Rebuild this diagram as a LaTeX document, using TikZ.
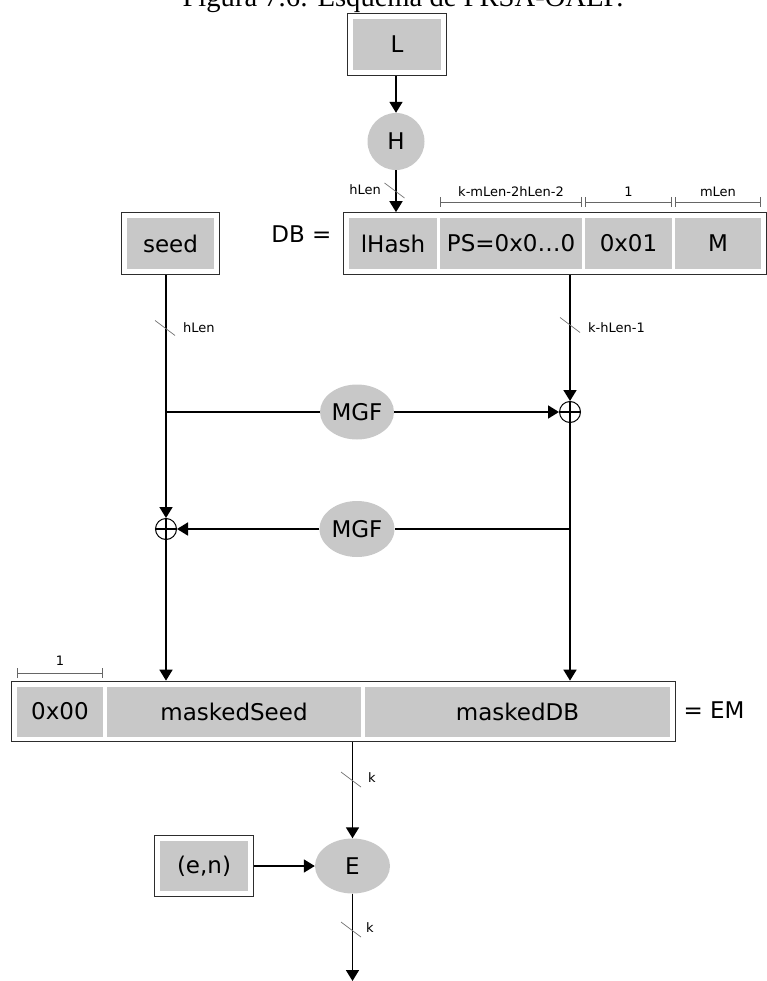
\documentclass[tikz,border=0pt]{standalone}
\usepackage{fontspec}
\setmainfont{DejaVu Sans}
\newfontfamily\titlefont{Liberation Serif}
\usetikzlibrary{arrows.meta,fit,shapes.geometric}
\definecolor{cellgray}{RGB}{200,200,200}
\definecolor{rimgray}{RGB}{45,45,45}
\tikzset{
  cell/.style={fill=cellgray, inner sep=0pt, minimum height=51pt, font=\fontsize{23}{23}\selectfont},
  frame/.style={draw=rimgray, line width=1.3pt, inner sep=5pt},
  blob/.style={ellipse, fill=cellgray, inner sep=0pt, font=\fontsize{23}{23}\selectfont},
  bigtext/.style={inner sep=0pt, font=\fontsize{23}{23}\selectfont},
  flow/.style={line width=1.7pt, -{Triangle[length=11pt,width=13pt]}},
  wire/.style={line width=1.7pt},
  tag/.style={inner sep=0pt, font=\fontsize{13}{14}\selectfont},
  measure/.style={line width=0.8pt, draw=black!60, {Bar[width=10pt]}-{Bar[width=10pt]}},
  xorop/.style={circle, draw, line width=1pt, minimum size=21pt, inner sep=0pt,
    path picture={\draw[line width=1.6pt]
      (path picture bounding box.north) -- (path picture bounding box.south)
      (path picture bounding box.west) -- (path picture bounding box.east);}},
  barcut/.pic={\draw[line width=0.7pt, draw=black!55] (-10pt,7.5pt) -- (10pt,-7.5pt);}
}
\begin{document}
\begin{tikzpicture}[x=1pt,y=-1pt]
\clip (0,0) rectangle (767,981);

% caption line, cut off at the top edge
\node[anchor=base, inner sep=0pt, font=\titlefont\fontsize{28.6}{30}\selectfont] (title) at (403,7) {Figura 7.6: Esquema de PRSA-OAEP.};

% label L and its hash
\node[cell, minimum width=88pt] (Lc) at (397,44.5) {L};
\node[frame, fit=(Lc)] (Lbox) {};
\node[blob, circle, minimum size=57pt] (H) at (396,141.5) {H};

% data block DB
\node[cell, minimum width=88pt]  (lh)  at (393,243.5)   {lHash};
\node[cell, minimum width=142pt] (ps)  at (511,243.5)   {PS=0x0…0};
\node[cell, minimum width=87pt]  (one) at (628.5,243.5) {0x01};
\node[cell, minimum width=86pt]  (msg) at (718,243.5)   {M};
\node[frame, fit=(lh)(msg)] (db) {};
\node[bigtext] (dbeq) at (301.5,234) {DB =};

% field lengths above DB
\draw[measure] (440,202) -- (582,202);
\draw[measure] (585,202) -- (672,202);
\draw[measure] (675,202) -- (761,202);
\node[tag] (lenps)  at (511,192)   {k-mLen-2hLen-2};
\node[tag] (lenone) at (628.5,192) {1};
\node[tag] (lenm)   at (718,192)   {mLen};

% seed
\node[cell, minimum width=87pt] (sd) at (170.5,243.5) {seed};
\node[frame, fit=(sd)] (seedbox) {};

% mask generation and XOR stages
\node[blob, minimum width=74pt, minimum height=55pt] (mgfa) at (357,412) {MGF};
\node[xorop] (xr) at (570,412) {};
\node[blob, minimum width=75pt, minimum height=56pt] (mgfb) at (357,529) {MGF};
\node[xorop] (xl) at (166,529) {};

% encoded message EM
\node[cell, minimum width=86pt, minimum height=50pt]  (z0)   at (60,711.5)    {0x00};
\node[cell, minimum width=254pt, minimum height=50pt] (mseed) at (234,711.5)  {maskedSeed};
\node[cell, minimum width=305pt, minimum height=50pt] (mdb)  at (517.5,711.5) {maskedDB};
\node[frame, fit=(z0)(mdb)] (em) {};
\node[bigtext] (emeq) at (714,710) {= EM};
\draw[measure] (17,673) -- (103,673);
\node[tag] (lenz) at (60,661) {1};

% RSA encryption
\node[blob, minimum width=75pt, minimum height=55pt] (E) at (352.5,866) {E};
\node[cell, minimum width=88pt, minimum height=50pt] (enc) at (204,866) {(e,n)};
\node[frame, fit=(enc)] (encbox) {};
\coordinate (out) at (352.5,981);

% connectors
\draw[flow] (H.north |- Lbox.south) -- (H.north);
\draw[flow] (H.south) -- (H.south |- db.north);
\draw[flow] (xl.north |- seedbox.south) -- (xl.north);
\draw[wire] (xl |- mgfa) -- (mgfa.west);
\draw[flow] (mgfa.east) -- (xr.west);
\draw[flow] (xr.north |- db.south) -- (xr.north);
\draw[flow] (xr.south) -- (xr.south |- em.north);
\draw[wire] (xr |- mgfb) -- (mgfb.east);
\draw[flow] (mgfb.west) -- (xl.east);
\draw[flow] (xl.south) -- (xl.south |- em.north);
\draw[flow] (E.north |- em.south) -- (E.north);
\draw[flow] (encbox.east) -- (encbox.east -| E.west);
\draw[flow] (E.south) -- (out);

% bus-width marks
\pic at (394.5,190.5) {barcut};
\node[tag, anchor=east] (wh) at (381,190) {hLen};
\pic at (165,328) {barcut};
\node[tag, anchor=west] (ws) at (183,328) {hLen};
\pic at (570,325) {barcut};
\node[tag, anchor=west] (wd) at (588,328) {k-hLen-1};
\pic at (351,779.5) {barcut};
\node[tag, anchor=west] (wk1) at (368,778) {k};
\pic at (351,929.5) {barcut};
\node[tag, anchor=west] (wk2) at (366,928) {k};
\end{tikzpicture}
\end{document}
